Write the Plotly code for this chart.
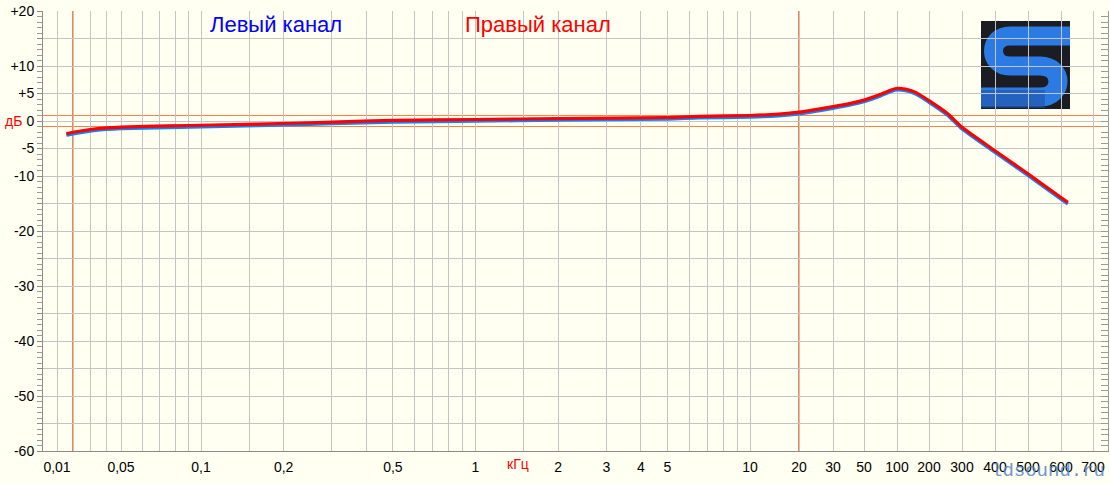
import numpy as np
import plotly.graph_objects as go

# ---------------- data ----------------
freq_khz = [0.015, 0.02, 0.03, 0.04, 0.05, 0.075, 0.11, 0.16, 0.23, 0.3, 0.5, 1, 2, 5, 6.5,
            10, 15, 20, 30, 40, 50, 70, 90, 100, 120, 150, 200, 250, 300, 400, 500, 600, 620]
right_db = [-2.3, -2.05, -1.55, -1.25, -1.1, -0.9, -0.73, -0.55, -0.36, -0.2, 0.1, 0.27, 0.45, 0.64, 0.85,
            1.0, 1.25, 1.6, 2.6, 3.2, 3.8, 4.8, 5.7, 5.95, 5.8, 5.2, 3.7, 1.4, -1.15, -5.4, -9.6, -13.9, -14.8]
left_db = [-2.6, -2.35, -1.85, -1.55, -1.4, -1.2, -1.03, -0.85, -0.66, -0.5, -0.2, -0.03, 0.15, 0.34, 0.55,
           0.7, 0.95, 1.3, 2.3, 2.9, 3.5, 4.5, 5.4, 5.65, 5.5, 4.9, 3.4, 1.1, -1.45, -5.7, -9.9, -14.2, -15.1]

grid_freqs = [0.01, 0.02, 0.03, 0.04, 0.05, 0.06, 0.07, 0.08, 0.09, 0.1, 0.15, 0.2, 0.3, 0.4, 0.5,
              0.6, 0.7, 0.8, 0.9, 1, 1.5, 2, 3, 4, 5, 6, 7, 8, 9, 10, 20, 30, 50, 100, 200, 300, 400,
              500, 600, 700]
x_labels = {0.01: "0,01", 0.05: "0,05", 0.1: "0,1", 0.2: "0,2", 0.5: "0,5", 1: "1", 2: "2", 3: "3",
            4: "4", 5: "5", 10: "10", 20: "20", 30: "30", 50: "50", 100: "100", 200: "200",
            300: "300", 400: "400", 500: "500", 600: "600", 700: "700"}
y_ticks = list(range(20, -65, -5))
y_labels = {20: "+20", 10: "+10", 5: "+5", 0: "0", -5: "-5", -10: "-10", -20: "-20",
            -30: "-30", -40: "-40", -50: "-50", -60: "-60"}
band_edges_khz = [0.02, 20]
tol_db = [1, -1]

# ---------------- axis scale (piecewise log, like the analyser software) ----------------
KNOT_F = [0.01, 0.02, 0.03, 0.04, 0.05, 0.1, 10, 20, 30, 50, 100, 200, 300, 400, 500, 600, 700]
KNOT_U = [57, 73, 90, 106, 121, 201, 750, 799, 833, 864, 897, 929, 962, 995, 1028, 1061, 1093]


def fx(f):
    return np.interp(np.log10(np.asarray(f, dtype=float)), np.log10(KNOT_F), KNOT_U)


W, H = 1110, 484
ML, MR, MT, MB = 43, 2, 11, 33
X_RANGE = [ML, W - MR]

BG = "#FFFFF2"
GRID = "#C4C4C4"
ORANGE = "#FF8040"
FONT = "Liberation Sans, Arial, sans-serif"


def pxx(px):
    return (px - ML) / (W - ML - MR)


def pxy(py):
    return (H - MB - py) / (H - MT - MB)


def ydb(py):
    return (H - MB - py) / (H - MT - MB) * 80 - 60


fig = go.Figure()

fig.add_trace(go.Scatter(x=fx(freq_khz), y=left_db, mode="lines",
                         line=dict(color="#0A84FF", width=3.2, shape="spline", smoothing=0.6),
                         showlegend=False, hoverinfo="skip"))
fig.add_trace(go.Scatter(x=fx(freq_khz), y=right_db, mode="lines",
                         line=dict(color="#FF0000", width=3.2, shape="spline", smoothing=0.6),
                         showlegend=False, hoverinfo="skip"))
# invisible trace to host the right-hand tick axis
fig.add_trace(go.Scatter(x=[X_RANGE[0]], y=[0], yaxis="y2", mode="markers",
                         marker=dict(opacity=0), showlegend=False, hoverinfo="skip"))

shapes = []
# logo (below grid)
shapes.append(dict(type="rect", xref="x", yref="y", x0=981, x1=1070, y0=ydb(109), y1=ydb(21),
                   fillcolor="#1C1D22", line=dict(width=0), layer="below"))
s_path = (f"M 1070,{ydb(36)} L 1010,{ydb(36)} C 988,{ydb(36)} 988,{ydb(66)} 1010,{ydb(66)} "
          f"L 1040,{ydb(66)} C 1064,{ydb(66)} 1064,{ydb(97)} 1040,{ydb(97)} L 981,{ydb(97)}")
shapes.append(dict(type="path", xref="x", yref="y", path=s_path,
                   line=dict(color="#2C7BE5", width=19), layer="below"))
shapes.append(dict(type="rect", xref="x", yref="y", x0=981, x1=1045, y0=ydb(108), y1=ydb(90),
                   fillcolor="#1E4E9E", line=dict(width=0), layer="below", opacity=0.55))

# orange markers
for f in band_edges_khz:
    u = float(fx(f))
    shapes.append(dict(type="line", xref="x", yref="paper", x0=u, x1=u, y0=0, y1=1,
                       line=dict(color=ORANGE, width=2), layer="below"))
for d in tol_db:
    shapes.append(dict(type="line", xref="paper", yref="y", x0=0, x1=1, y0=d, y1=d,
                       line=dict(color=ORANGE, width=1), layer="below"))

annotations = [
    dict(text="Левый канал", x=pxx(276), y=pxy(24), xref="paper", yref="paper", showarrow=False,
         font=dict(family=FONT, size=22, color="#0000FF"), xanchor="center", yanchor="middle"),
    dict(text="Правый канал", x=pxx(538), y=pxy(24), xref="paper", yref="paper", showarrow=False,
         font=dict(family=FONT, size=22, color="#FF0000"), xanchor="center", yanchor="middle"),
    dict(text="дБ", x=pxx(3), y=0, xref="paper", yref="y", showarrow=False,
         font=dict(family=FONT, size=14, color="#FF0000"), xanchor="left", yanchor="middle"),
    dict(text="кГц", x=float(fx(1.43)), y=pxy(464), xref="x", yref="paper", showarrow=False,
         font=dict(family=FONT, size=14, color="#FF0000"), xanchor="center", yanchor="middle"),
    dict(text="ldsound.ru", x=pxx(1107), y=pxy(471), xref="paper", yref="paper", showarrow=False,
         font=dict(family="Liberation Mono, DejaVu Sans Mono, monospace", size=19, color="#5585C8"),
         xanchor="right", yanchor="middle", opacity=0.85),
]

fig.update_layout(
    width=W, height=H,
    margin=dict(l=ML, r=MR, t=MT, b=MB, pad=0),
    paper_bgcolor=BG, plot_bgcolor=BG,
    shapes=shapes, annotations=annotations,
    font=dict(family=FONT, size=14, color="#000000"),
    xaxis=dict(range=X_RANGE, tickmode="array", tickvals=[float(v) for v in fx(grid_freqs)],
               ticktext=[x_labels.get(f, "") for f in grid_freqs],
               showgrid=True, gridcolor=GRID, gridwidth=1, zeroline=False,
               showline=True, linecolor="#8C8C8C", linewidth=1, ticks="",
               ticklabelstandoff=3,
               tickfont=dict(family=FONT, size=14, color="#000000"), fixedrange=True),
    yaxis=dict(range=[-60, 20], tickmode="array", tickvals=y_ticks,
               ticktext=[y_labels.get(v, "") for v in y_ticks],
               showgrid=True, gridcolor=GRID, gridwidth=1, zeroline=False,
               showline=True, linecolor="#8C8C8C", linewidth=1,
               ticks="outside", ticklen=5, tickcolor="#8C8C8C",
               minor=dict(dtick=1, ticks="outside", ticklen=5, tickcolor="#9A9A9A", showgrid=False),
               tickfont=dict(family=FONT, size=14, color="#000000"), fixedrange=True),
    yaxis2=dict(range=[-60, 20], overlaying="y", side="right", showgrid=False, zeroline=False,
                showticklabels=False, showline=True, linecolor="#9A9A9A",
                tickmode="array", tickvals=y_ticks, ticks="inside", ticklen=7, tickcolor="#9A9A9A",
                minor=dict(dtick=1, ticks="inside", ticklen=7, tickcolor="#9A9A9A", showgrid=False),
                fixedrange=True),
)

fig.write_html("out.html", config={"displayModeBar": False},
               post_script="document.body.style.margin='0';document.body.style.padding='0';"
                           "document.body.style.background='" + BG + "';")
